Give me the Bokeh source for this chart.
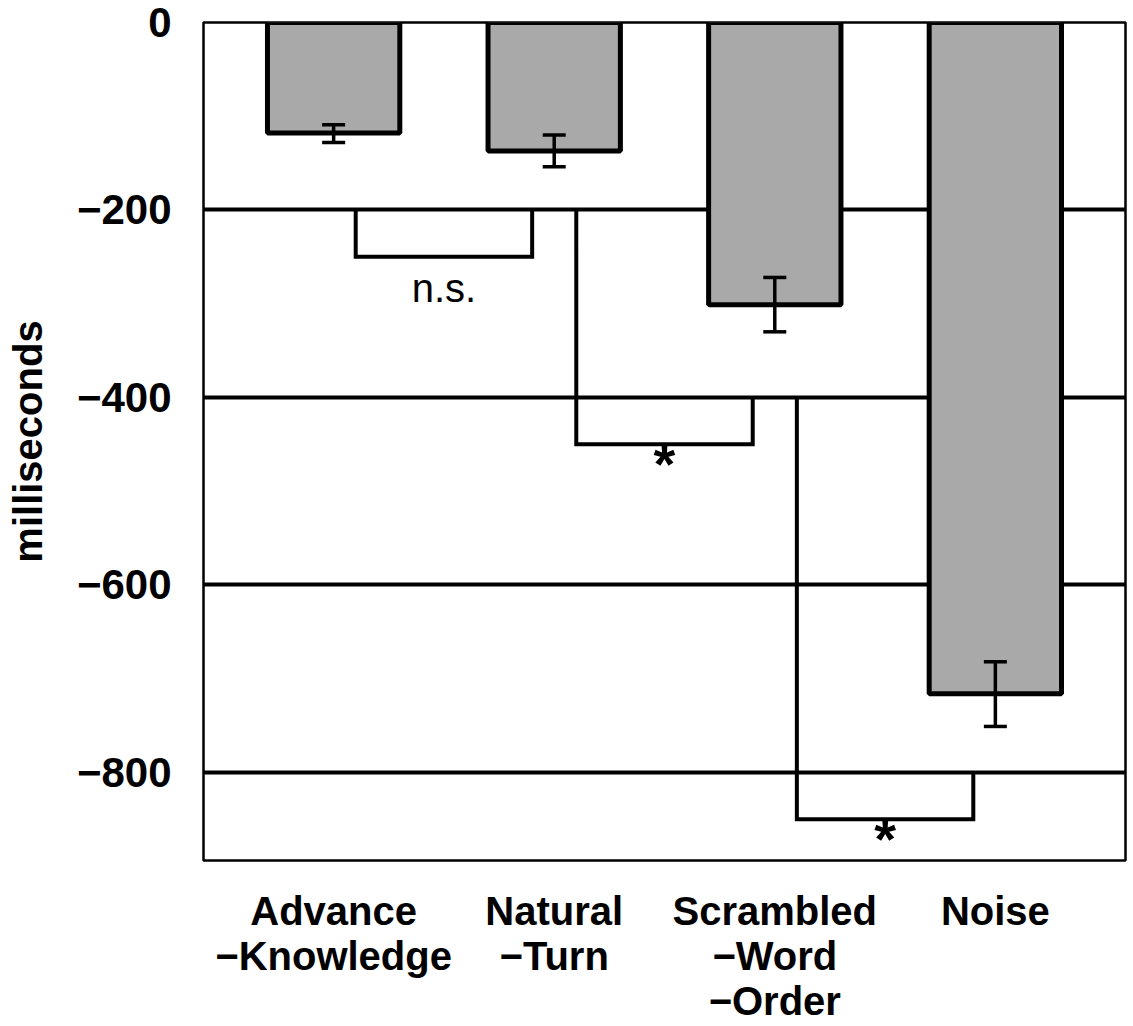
from bokeh.plotting import figure
from bokeh.models import ColumnDataSource, FixedTicker, Whisker, TeeHead, Range1d
from bokeh.core.properties import value
from bokeh.embed import file_html
from bokeh.resources import INLINE

# ---- data ----
categories = ["Advance\n\u2212Knowledge", "Natural\n\u2212Turn", "Scrambled\n\u2212Word\n\u2212Order", "Noise"]
means = [-118, -137, -301, -716]
err_upper = [-109, -120, -272, -682]
err_lower = [-128, -154, -330, -751]
y_ticks = [0, -200, -400, -600, -800]
y_tick_labels = ["0", "\u2212200", "\u2212400", "\u2212600", "\u2212800"]
y_label = "milliseconds"

# significance brackets (between neighbouring conditions)
bracket_left_x = [1.1, 2.1, 3.1]
bracket_right_x = [1.9, 2.9, 3.9]
bracket_left_top = [-200, -200, -400]
bracket_right_top = [-200, -400, -800]
bracket_bottom = [-250, -450, -850]
sig_labels = ["n.s.", "*", "*"]

FONT = "Liberation Sans"

xs = list(range(1, len(categories) + 1))

p = figure(frame_width=922, frame_height=838, output_backend="svg", toolbar_location=None,
           x_range=Range1d(0.41, 4.59), y_range=Range1d(-894, 0),
           min_border_left=203, min_border_right=4, min_border_top=22, min_border_bottom=164)

p.outline_line_color = "black"
p.outline_line_width = 2.5
p.background_fill_color = "white"
p.border_fill_color = "white"

# grid
p.xgrid.visible = False
p.ygrid.ticker = FixedTicker(ticks=[t for t in y_ticks if t != 0])
p.ygrid.grid_line_color = "black"
p.ygrid.grid_line_width = 4

# bars
src = ColumnDataSource(dict(x=xs, top=[0] * len(means), bottom=means,
                            upper=err_upper, lower=err_lower))
p.vbar(x="x", top="top", bottom="bottom", width=0.6, source=src,
       fill_color="#a9a9a9", line_color="black", line_width=5)

# error bars
w = Whisker(base="x", upper="upper", lower="lower", source=src, dimension="height",
            line_color="black", line_width=3.5, level="overlay",
            upper_head=TeeHead(size=23, line_width=3.5, line_color="black"),
            lower_head=TeeHead(size=23, line_width=3.5, line_color="black"))
p.add_layout(w)

# brackets
bx, by = [], []
for lx, rx, lt, rt, b in zip(bracket_left_x, bracket_right_x, bracket_left_top, bracket_right_top, bracket_bottom):
    bx.append([lx, lx, rx, rx])
    by.append([lt, b, b, rt])
p.multi_line(xs=bx, ys=by, line_color="black", line_width=4, line_join="miter")

# significance labels
mid = [(l + r) / 2 for l, r in zip(bracket_left_x, bracket_right_x)]
ns_x = [m for m, s in zip(mid, sig_labels) if s != "*"]
ns_y = [b - 33 for b, s in zip(bracket_bottom, sig_labels) if s != "*"]
ns_t = [s for s in sig_labels if s != "*"]
st_x = [m for m, s in zip(mid, sig_labels) if s == "*"]
st_y = [b - 20 for b, s in zip(bracket_bottom, sig_labels) if s == "*"]
st_t = [s for s in sig_labels if s == "*"]
p.text(x=ns_x, y=ns_y, text=ns_t, text_font=value(FONT), text_font_size="40px",
       text_align="center", text_baseline="alphabetic", text_color="black")
p.text(x=st_x, y=st_y, text=st_t, text_font=value(FONT), text_font_size="56px",
       text_font_style="bold", text_align="center", text_baseline="alphabetic", text_color="black")

# axes
p.xaxis.ticker = FixedTicker(ticks=xs)
p.xaxis.major_label_overrides = {x: c for x, c in zip(xs, categories)}
p.yaxis.ticker = FixedTicker(ticks=y_ticks)
p.yaxis.major_label_overrides = {t: l for t, l in zip(y_ticks, y_tick_labels)}
for ax in (p.xaxis[0], p.yaxis[0]):
    ax.axis_line_color = None
    ax.major_tick_line_color = None
    ax.minor_tick_line_color = None
    ax.major_tick_out = 0
    ax.major_tick_in = 0
    ax.major_label_text_font = FONT
    ax.major_label_text_font_style = "bold"
    ax.major_label_text_color = "black"
    ax.major_label_text_font_size = "40px"
p.xaxis.major_label_standoff = 28
p.xaxis.major_label_text_line_height = 1.03
p.yaxis.major_label_standoff = 32
p.yaxis.major_label_text_font_size = "42px"
p.yaxis.axis_label = y_label
p.yaxis.axis_label_text_font = FONT
p.yaxis.axis_label_text_font_style = "bold"
p.yaxis.axis_label_text_font_size = "40px"
p.yaxis.axis_label_text_color = "black"
p.yaxis.axis_label_standoff = 24

open("out.html", "w").write(file_html(p, INLINE))
